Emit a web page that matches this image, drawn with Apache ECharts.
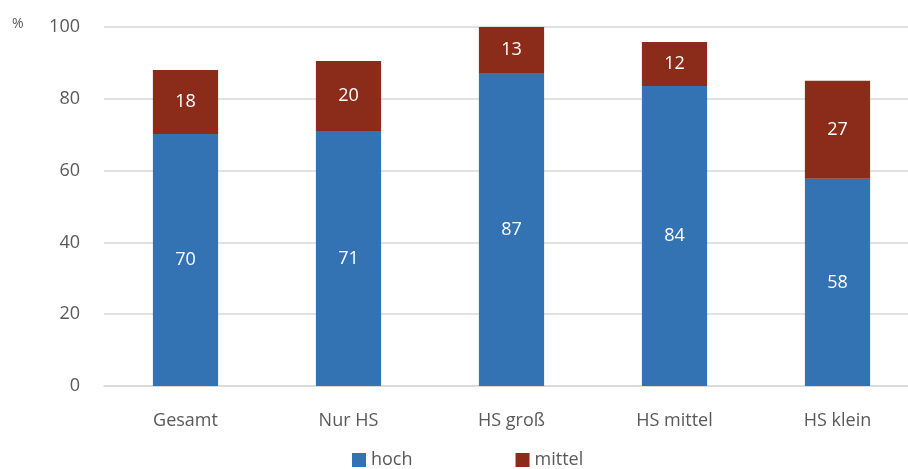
<!DOCTYPE html>
<html>
<head>
<meta charset="utf-8">
<script src="https://cdn.jsdelivr.net/npm/echarts@6/dist/echarts.min.js"></script>
<style>
  html, body { margin: 0; padding: 0; background: #fff; overflow: hidden; }
  #chart { width: 919px; height: 469px; }
</style>
</head>
<body>
<div id="chart"></div>
<script>
// Kategorien und Werte (in %)
const categories = ["Gesamt", "Nur HS", "HS groß", "HS mittel", "HS klein"];
const hochValues = [70.2, 71.0, 87.2, 83.6, 57.7];
const mittelValues = [17.8, 19.5, 12.8, 12.2, 27.3];
const seriesNames = ["hoch", "mittel"];

const textColor = "#595959";
const font = "Open Sans";

const chart = echarts.init(document.getElementById("chart"));

const labelStyle = {
  show: true,
  position: "inside",
  color: "#fff",
  fontFamily: font,
  fontSize: 18,
  formatter: p => Math.round(p.value)
};

const option = {
  animation: false,
  textStyle: { fontFamily: font },
  grid: {
    left: 104,
    right: 0,
    top: 27,
    bottom: 83,
    containLabel: false
  },
  graphic: [
    {
      type: "text",
      left: 12,
      top: 17,
      style: { text: "%", fill: textColor, font: "14px 'Open Sans'" }
    }
  ],
  legend: {
    bottom: -5,
    left: 347,
    itemWidth: 14,
    itemHeight: 14,
    itemGap: 103,
    icon: "rect",
    textStyle: { color: textColor, fontSize: 18, fontFamily: font },
    data: seriesNames
  },
  xAxis: {
    type: "category",
    data: categories,
    axisTick: { show: false },
    axisLine: { lineStyle: { color: "#d9d9d9", width: 1.5 } },
    axisLabel: { color: textColor, fontSize: 18, margin: 26, fontFamily: font }
  },
  yAxis: {
    type: "value",
    min: 0,
    max: 100,
    interval: 20,
    axisLine: { show: false },
    axisTick: { show: false },
    splitLine: { lineStyle: { color: "#d9d9d9", width: 1.5 } },
    axisLabel: { color: textColor, fontSize: 18, margin: 24, fontFamily: font }
  },
  series: [
    {
      name: seriesNames[0],
      type: "bar",
      stack: "total",
      barWidth: "40%",
      data: hochValues,
      itemStyle: { color: "#3373b3" },
      label: labelStyle
    },
    {
      name: seriesNames[1],
      type: "bar",
      stack: "total",
      barWidth: "40%",
      data: mittelValues,
      itemStyle: { color: "#8b2c1a" },
      label: labelStyle
    }
  ]
};

chart.setOption(option);
</script>
</body>
</html>
